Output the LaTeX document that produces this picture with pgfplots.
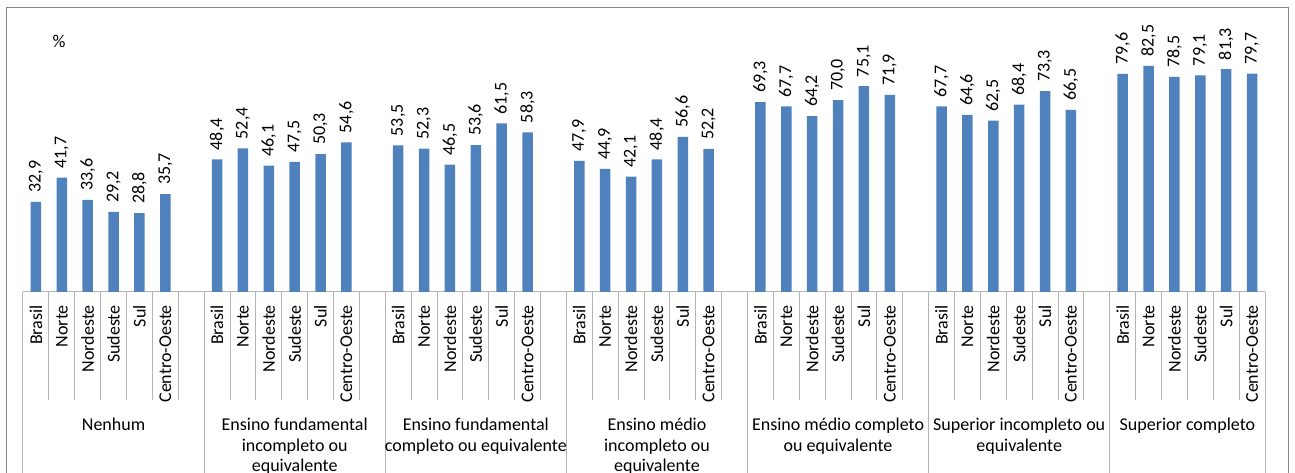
\documentclass[border=0pt]{standalone}
\usepackage{pgfplots}
\pgfplotsset{compat=1.18}
\usepackage{fontspec}
\setmainfont{Carlito}
\definecolor{barblue}{HTML}{4F81BD}
\definecolor{framegray}{HTML}{878787}
\definecolor{linegray}{HTML}{B4B4B4}

\begin{document}
\begin{tikzpicture}[font=\fontsize{18}{20.5}\selectfont]
\path[use as bounding box, clip] (-23pt,-181pt) rectangle (1272pt,292pt);
\begin{axis}[
    at={(0,0)}, anchor=south west,
    scale only axis, width=1242pt, height=274pt,
    xmin=-0.5, xmax=47.5, ymin=0, ymax=100,
    ybar, bar width=10.5pt,
    axis x line*=bottom, axis y line=none,
    x axis line style={linegray, line width=1pt},
    ytick=\empty,
    xtick={0,...,47},
    xticklabels={Brasil,Norte,Nordeste,Sudeste,Sul,Centro-Oeste,{},
                 Brasil,Norte,Nordeste,Sudeste,Sul,Centro-Oeste,{},
                 Brasil,Norte,Nordeste,Sudeste,Sul,Centro-Oeste,{},
                 Brasil,Norte,Nordeste,Sudeste,Sul,Centro-Oeste,{},
                 Brasil,Norte,Nordeste,Sudeste,Sul,Centro-Oeste,{},
                 Brasil,Norte,Nordeste,Sudeste,Sul,Centro-Oeste,{},
                 Brasil,Norte,Nordeste,Sudeste,Sul,Centro-Oeste},
    major tick length=0pt,
    xticklabel style={rotate=90, anchor=east, inner sep=0pt},
    xticklabel shift=13pt,
    /pgf/number format/assume math mode=true,
    nodes near coords={\pgfmathprintnumber[fixed,fixed zerofill,precision=1,use comma]{\pgfplotspointmeta}},
    every node near coord/.append style={rotate=90, anchor=west, inner sep=0pt, inner xsep=9pt, black},
    clip=false,
]
\addplot[fill=barblue, draw=none] coordinates {
    (0,32.9) (1,41.7) (2,33.6) (3,29.2) (4,28.8) (5,35.7)
    (7,48.4) (8,52.4) (9,46.1) (10,47.5) (11,50.3) (12,54.6)
    (14,53.5) (15,52.3) (16,46.5) (17,53.6) (18,61.5) (19,58.3)
    (21,47.9) (22,44.9) (23,42.1) (24,48.4) (25,56.6) (26,52.2)
    (28,69.3) (29,67.7) (30,64.2) (31,70.0) (32,75.1) (33,71.9)
    (35,67.7) (36,64.6) (37,62.5) (38,68.4) (39,73.3) (40,66.5)
    (42,79.6) (43,82.5) (44,78.5) (45,79.1) (46,81.3) (47,79.7)
};
\end{axis}

% multi-level category grid below the axis
\foreach \i in {0,...,48}
    \draw[linegray, line width=1pt] (\i*25.875pt,0) -- (\i*25.875pt,-108pt);
\foreach \i in {0,7,14,21,28,35,42,48}
    \draw[linegray, line width=1pt] (\i*25.875pt,0) -- (\i*25.875pt,-190pt);

\node[anchor=north, align=center, inner sep=0pt] at (90.56pt,-126pt) {Nenhum};
\node[anchor=north, align=center, inner sep=0pt] at (271.69pt,-126pt) {Ensino fundamental\\incompleto ou\\equivalente};
\node[anchor=north, align=center, inner sep=0pt] at (452.81pt,-126pt) {Ensino fundamental\\completo ou equivalente};
\node[anchor=north, align=center, inner sep=0pt] at (633.94pt,-126pt) {Ensino médio\\incompleto ou\\equivalente};
\node[anchor=north, align=center, inner sep=0pt] at (815.06pt,-126pt) {Ensino médio completo\\ou equivalente};
\node[anchor=north, align=center, inner sep=0pt] at (996.19pt,-126pt) {Superior incompleto ou\\equivalente};
\node[anchor=north, align=center, inner sep=0pt] at (1164.38pt,-126pt) {Superior completo};

\node at (36pt,251pt) {\%};

% chart frame
\draw[framegray, line width=1pt] (-16pt,-200pt) -- (-16pt,284pt) -- (1265pt,284pt) -- (1265pt,-200pt);
\end{tikzpicture}
\end{document}
